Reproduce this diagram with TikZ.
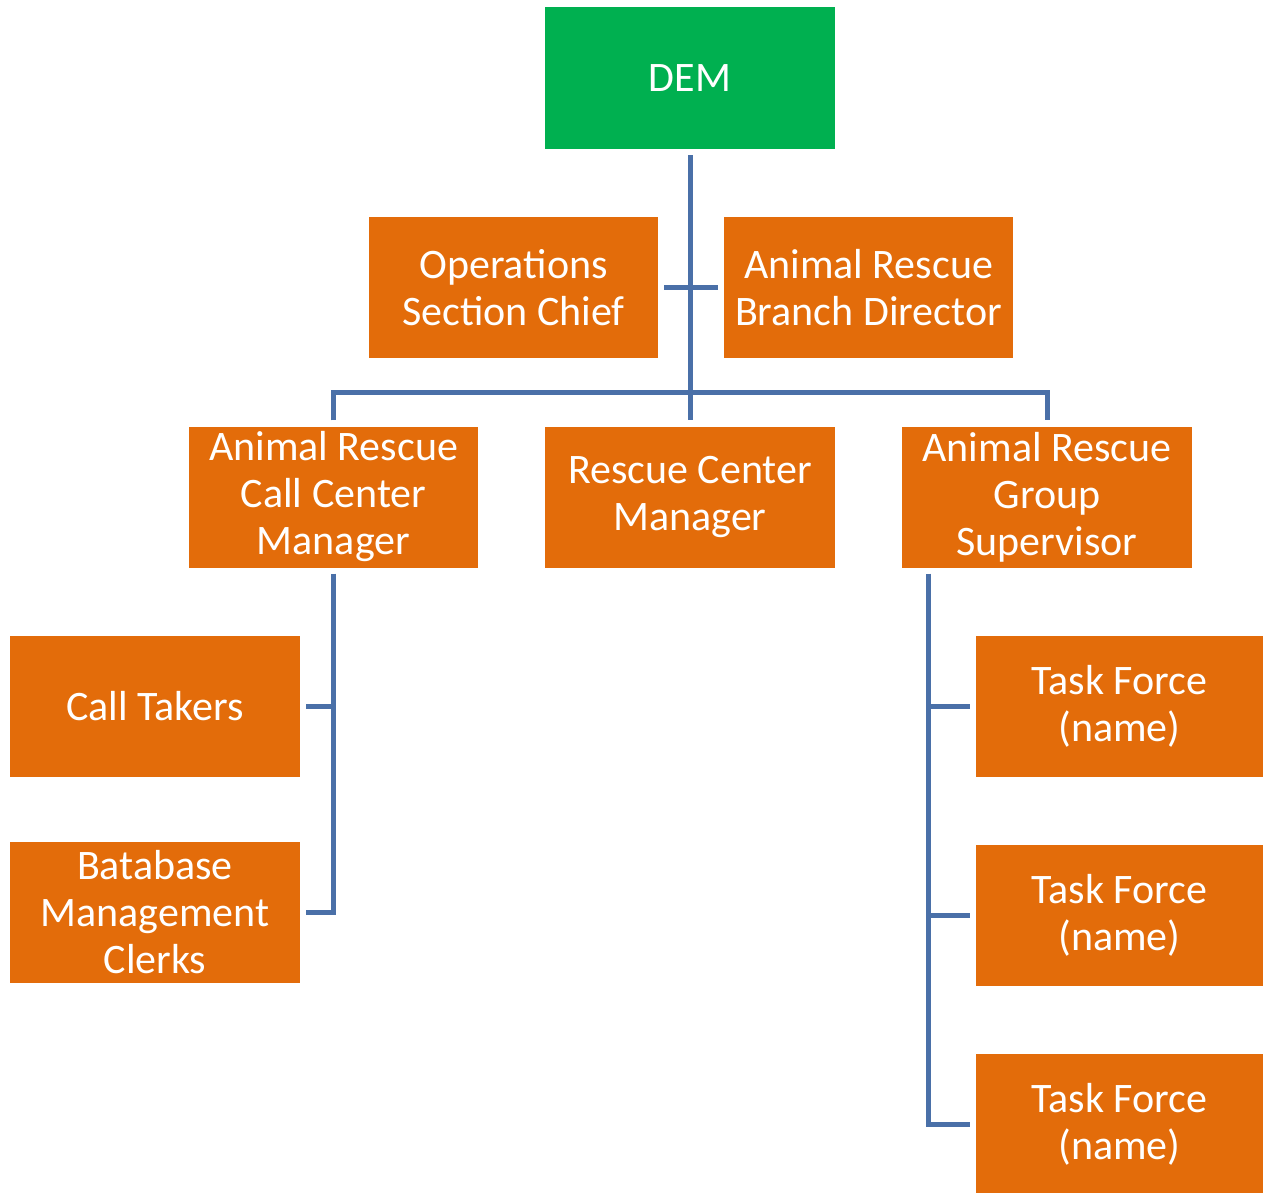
\documentclass[tikz,border=0pt]{standalone}
\usepackage{fontspec}
\setmainfont{Carlito}
\definecolor{boxorange}{HTML}{E36C0A}
\definecolor{boxgreen}{HTML}{00B050}
\definecolor{linkblue}{HTML}{4A70A8}
\begin{document}
\begin{tikzpicture}[x=1pt,y=-1pt,
  box/.style={fill=boxorange, text=white, minimum width=289pt, minimum height=141pt,
    inner sep=0pt, align=center, font=\fontsize{42}{47}\selectfont},
  conn/.style={draw=linkblue, line width=5pt}]
\useasboundingbox (0,0) rectangle (1263,1192);
\clip (0,0) rectangle (1263,1192);

% top level
\node[box, fill=boxgreen, minimum width=290pt, minimum height=142pt] (dem) at (690,78) {DEM};

% staff positions
\node[box] (ops) at (513.5,287.5) {Operations\\Section Chief};
\node[box] (arbd) at (868.5,287.5) {Animal Rescue\\Branch Director};

% second level
\node[box] (ccm) at (333.5,497) {Animal Rescue\\Call Center\\Manager};
\node[box, minimum width=290pt] (rcm) at (690,497) {Rescue Center\\Manager};
\node[box, minimum width=290pt] (rsg) at (1047,497) {Animal Rescue\\Group\\Supervisor};

% call center units
\node[box, minimum width=290pt] (ct) at (155,706.5) {Call Takers};
\node[box, minimum width=290pt] (dbm) at (155,912.5) {Batabase\\Management\\Clerks};

% task forces
\node[box, minimum width=287pt] (tf1) at (1119.5,706.5) {Task Force\\(name)};
\node[box, minimum width=287pt] (tf2) at (1119.5,915.5) {Task Force\\(name)};
\node[box, minimum width=287pt] (tf3) at (1119.5,1124.5) {Task Force\\(name)};

% main trunk and staff link
\draw[conn] ([yshift=-6pt]dem.south) -- ([yshift=6pt]rcm.north);
\draw[conn] ([xshift=6pt]ops.east) -- ([xshift=-6pt]arbd.west);

% branch bar to second level
\draw[conn] ([yshift=6pt]ccm.north) -- ++(0pt,28pt) -| ([yshift=6pt]rsg.north);

% call center branch
\draw[conn] ([yshift=-6pt]ccm.south) |- ([xshift=6pt]dbm.east);
\draw[conn] ([xshift=6pt]ct.east) -- (ct.east -| ccm.south);

% task force branch
\coordinate (tfroot) at ([xshift=27pt,yshift=-6pt]rsg.south west);
\draw[conn] (tfroot) |- ([xshift=-6pt]tf3.west);
\draw[conn] ([xshift=-6pt]tf1.west) -- (tf1.west -| tfroot);
\draw[conn] ([xshift=-6pt]tf2.west) -- (tf2.west -| tfroot);
\end{tikzpicture}
\end{document}
